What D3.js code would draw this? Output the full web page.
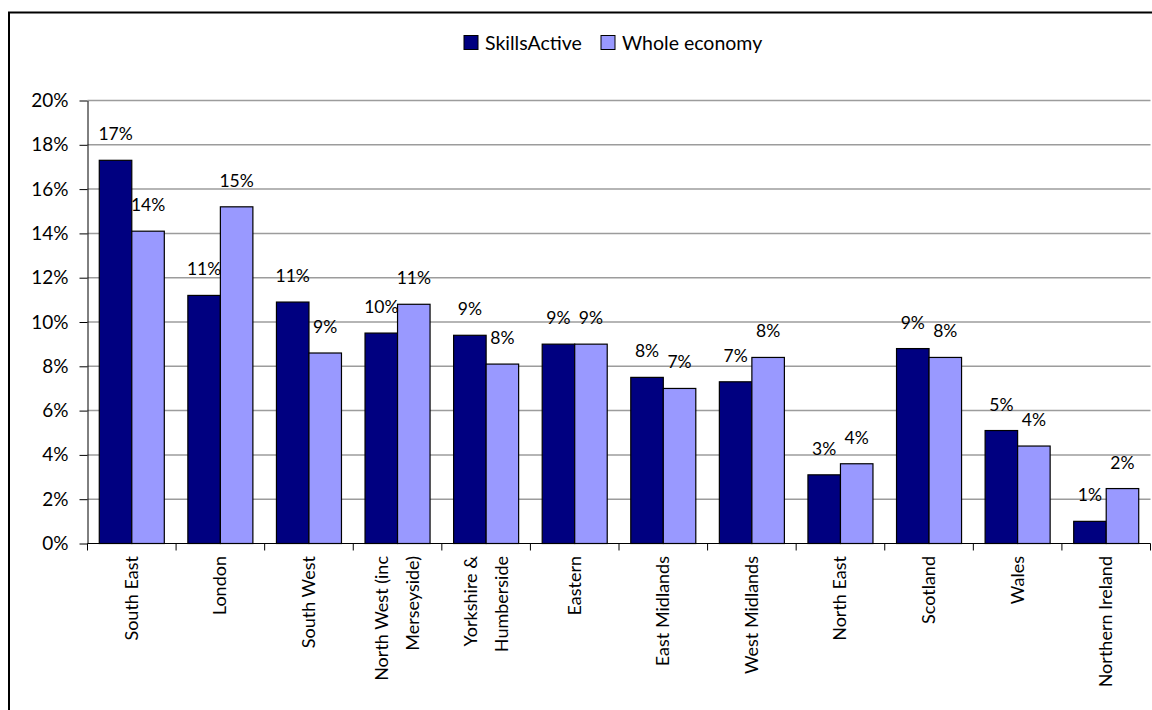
<!DOCTYPE html>
<html>
<head>
<meta charset="utf-8">
<script src="https://cdn.jsdelivr.net/npm/d3@7"></script>
<style>
  html, body { margin: 0; padding: 0; background: #fff; }
  svg { display: block; font-family: Lato, "DejaVu Sans", sans-serif; }
</style>
</head>
<body>
<svg id="chart" width="1152" height="710"></svg>
<script>
// Regions, each with up to two label lines
const regions = [
  ["South East"], ["London"], ["South West"], ["North West (inc", "Merseyside)"],
  ["Yorkshire &", "Humberside"], ["Eastern"], ["East Midlands"], ["West Midlands"],
  ["North East"], ["Scotland"], ["Wales"], ["Northern Ireland"]
];
const seriesNames = ["SkillsActive", "Whole economy"];
const skillsActive = [0.173, 0.112, 0.109, 0.095, 0.094, 0.090, 0.075, 0.073, 0.031, 0.088, 0.051, 0.010];
const wholeEconomy = [0.141, 0.152, 0.086, 0.108, 0.081, 0.090, 0.070, 0.084, 0.036, 0.084, 0.044, 0.0248];
const yTicks = [0, 0.02, 0.04, 0.06, 0.08, 0.10, 0.12, 0.14, 0.16, 0.18, 0.20];
const colors = ["#000080", "#9999ff"];

const svg = d3.select("#chart");
const plotLeft = 87.5, plotRight = 1150.5, plotTop = 100.5, plotBottom = 543.5;

// Outer chart frame
svg.append("rect")
  .attr("x", 9).attr("y", 12.5).attr("width", 1160).attr("height", 720)
  .attr("fill", "#fff").attr("stroke", "#000").attr("stroke-width", 2);

const keys = regions.map(r => r.join(" "));
const x = d3.scaleBand().domain(keys).range([plotLeft, plotRight])
  .paddingInner(0.266).paddingOuter(0.133);
const xs = d3.scaleBand().domain(seriesNames).range([0, x.bandwidth()]);
const y = d3.scaleLinear().domain([0, 0.20]).range([plotBottom, plotTop]);

// Horizontal gridlines
svg.append("g").selectAll("line").data(yTicks.slice(1)).join("line")
  .attr("x1", plotLeft).attr("x2", plotRight)
  .attr("y1", d => y(d)).attr("y2", d => y(d))
  .attr("stroke", "#9c9c9c").attr("stroke-width", 1.5);

// Bars
const data = keys.map((k, i) => ({ key: k, vals: [skillsActive[i], wholeEconomy[i]] }));
const groups = svg.append("g").selectAll("g").data(data).join("g")
  .attr("transform", d => `translate(${x(d.key)},0)`);
groups.selectAll("rect").data(d => d.vals.map((v, j) => ({ v, s: seriesNames[j], j }))).join("rect")
  .attr("x", d => xs(d.s)).attr("width", xs.bandwidth())
  .attr("y", d => y(d.v)).attr("height", d => y(0) - y(d.v))
  .attr("fill", d => colors[d.j]).attr("stroke", "#000").attr("stroke-width", 1.2);

// Value labels
const pct = d3.format(".0%");
groups.selectAll("text").data(d => d.vals.map((v, j) => ({ v, s: seriesNames[j] }))).join("text")
  .attr("x", d => xs(d.s) + xs.bandwidth() / 2)
  .attr("y", d => y(d.v) - 20)
  .attr("text-anchor", "middle")
  .attr("font-size", 17.5).attr("fill", "#000")
  .text(d => pct(d.v));

// Y axis
const yAxis = svg.append("g").attr("transform", `translate(${plotLeft},0)`)
  .call(d3.axisLeft(y).tickValues(yTicks).tickFormat(pct).tickSize(8).tickSizeOuter(0).tickPadding(11));
yAxis.selectAll("text").attr("font-size", 19).attr("fill", "#000").attr("font-family", "Lato, sans-serif");
yAxis.selectAll("line").attr("stroke", "#000");
yAxis.select(".domain").attr("stroke", "#000");

// X axis baseline and category boundary ticks
const step = x.step();
const boundaries = keys.map(k => x(k) - step * x.paddingInner() / 2)
  .concat([x(keys[keys.length - 1]) + x.bandwidth() + step * x.paddingInner() / 2]);
svg.append("line").attr("x1", plotLeft).attr("x2", plotRight).attr("y1", plotBottom).attr("y2", plotBottom)
  .attr("stroke", "#000").attr("stroke-width", 1);
svg.append("g").selectAll("line").data(boundaries).join("line")
  .attr("x1", d => d).attr("x2", d => d).attr("y1", plotBottom).attr("y2", plotBottom + 7)
  .attr("stroke", "#000");

// Rotated category labels
const lineGap = 31;
const catLabels = svg.append("g").selectAll("g").data(regions).join("g")
  .attr("transform", (r, i) => `translate(${x(keys[i]) + x.bandwidth() / 2},556) rotate(-90)`);
catLabels.each(function (r) {
  const g = d3.select(this);
  r.forEach((line, li) => {
    g.append("text")
      .attr("x", 0)
      .attr("y", 6 + (li - (r.length - 1) / 2) * lineGap)
      .attr("text-anchor", "end")
      .attr("font-size", 18).attr("fill", "#000")
      .text(line);
  });
});

// Legend
const legend = svg.append("g");
const legendItems = [{ name: seriesNames[0], x: 464, c: colors[0] }, { name: seriesNames[1], x: 601, c: colors[1] }];
legendItems.forEach(it => {
  legend.append("rect").attr("x", it.x).attr("y", 35.5).attr("width", 14).attr("height", 14)
    .attr("fill", it.c).attr("stroke", "#000").attr("stroke-width", 1);
  legend.append("text").attr("x", it.x + 21).attr("y", 50).attr("font-size", 19.5).attr("fill", "#000").text(it.name);
});
</script>
</body>
</html>
